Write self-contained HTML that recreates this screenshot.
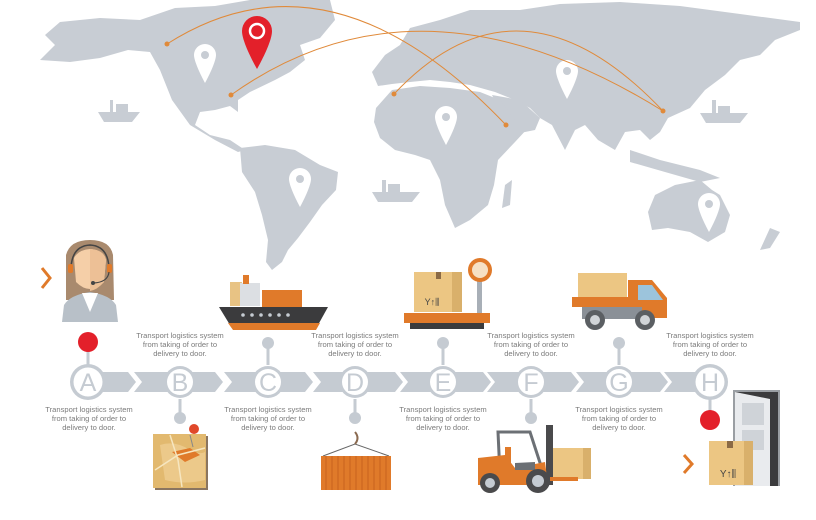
<!DOCTYPE html>
<html><head><meta charset="utf-8"><style>
html,body{margin:0;padding:0;background:#fff;width:816px;height:520px;overflow:hidden}
svg{display:block}
.t{font-family:"Liberation Sans",sans-serif;font-size:7.6px;fill:#7c7c7c;text-anchor:middle}
.L{font-family:"Liberation Sans",sans-serif;font-size:25px;text-anchor:middle}
</style></head><body>
<svg width="816" height="520" viewBox="0 0 816 520" xmlns="http://www.w3.org/2000/svg">
<g fill="#c8cdd4">
<path d="M60,22 L100,18 L140,20 L175,8 L215,6 L250,0 L330,0 L335,20 L320,38 L300,45 L305,60 L290,72 L275,80 L250,92 L238,100 L238,112 L230,106 L215,110 L200,112 L195,125 L210,135 L230,140 L245,150 L238,152 L215,140 L190,125 L172,100 L160,70 L150,52 L128,50 L100,58 L70,62 L40,60 L55,45 L45,35 Z"/>
<path d="M240,148 L265,145 L295,150 L320,165 L338,172 L336,190 L322,205 L310,222 L298,238 L288,250 L282,262 L272,270 L266,262 L268,240 L262,215 L255,192 L242,172 Z"/>
<path d="M372,72 L385,55 L400,45 L410,28 L440,20 L470,10 L520,10 L560,4 L620,2 L680,6 L740,14 L800,22 L800,30 L775,40 L760,55 L740,60 L725,75 L705,90 L690,108 L668,118 L660,132 L650,140 L640,130 L625,132 L615,150 L598,140 L585,125 L575,130 L565,150 L552,125 L540,118 L530,108 L515,100 L495,92 L470,85 L450,82 L430,80 L410,82 L392,84 L378,86 Z"/>
<path d="M492,95 L520,100 L540,118 L535,130 L515,134 L502,115 Z"/>
<path d="M630,150 L660,160 L700,170 L720,178 L700,182 L665,172 L630,162 Z"/>
<path d="M376,108 L392,90 L420,86 L450,88 L480,92 L500,100 L515,120 L528,128 L515,142 L498,160 L494,185 L488,205 L470,220 L455,228 L445,205 L440,180 L430,160 L415,155 L395,150 L380,138 L374,122 Z"/>
<path d="M505,185 L512,180 L510,205 L502,208 Z"/>
<path d="M655,195 L675,185 L700,180 L712,190 L720,195 L730,215 L725,232 L708,242 L690,232 L668,228 L652,230 L648,212 Z"/>
<path d="M770,228 L780,232 L770,248 L760,250 Z"/>
<path d="M98,112 L140,112 L132,122 L104,122 Z M110,100 L113,100 L113,112 L110,112 Z M116,104 L128,104 L128,112 L116,112 Z"/>
<path d="M372,192 L420,192 L412,202 L378,202 Z M382,180 L386,180 L386,192 L382,192 Z M388,184 L400,184 L400,192 L388,192 Z"/>
<path d="M700,113 L748,113 L740,123 L706,123 Z M712,100 L716,100 L716,113 L712,113 Z M718,106 L730,106 L730,113 L718,113 Z"/>
</g>
<g fill="#fff">
<path d="M205,44 a11,11 0 0 1 11,11 c0,8 -11,28 -11,28 c0,0 -11,-20 -11,-28 a11,11 0 0 1 11,-11z"/>
<path d="M446,106 a11,11 0 0 1 11,11 c0,8 -11,28 -11,28 c0,0 -11,-20 -11,-28 a11,11 0 0 1 11,-11z"/>
<path d="M567,60 a11,11 0 0 1 11,11 c0,8 -11,28 -11,28 c0,0 -11,-20 -11,-28 a11,11 0 0 1 11,-11z"/>
<path d="M300,168 a11,11 0 0 1 11,11 c0,8 -11,28 -11,28 c0,0 -11,-20 -11,-28 a11,11 0 0 1 11,-11z"/>
<path d="M709,193 a11,11 0 0 1 11,11 c0,8 -11,28 -11,28 c0,0 -11,-20 -11,-28 a11,11 0 0 1 11,-11z"/>
</g>
<g fill="#c8cdd4"><circle cx="205" cy="55" r="4"/><circle cx="446" cy="117" r="4"/><circle cx="567" cy="71" r="4"/><circle cx="300" cy="179" r="4"/><circle cx="709" cy="204" r="4"/></g>
<g fill="none" stroke="#e08a3a" stroke-width="1">
<path d="M167,44 Q330,-60 506,125"/>
<path d="M231,95 Q420,-40 663,111"/>
<path d="M394,94 Q520,-40 663,111"/>
</g>
<g fill="#e08a3a"><circle cx="167" cy="44" r="2.5"/><circle cx="506" cy="125" r="2.5"/><circle cx="231" cy="95" r="2.5"/><circle cx="663" cy="111" r="2.5"/><circle cx="394" cy="94" r="2.5"/></g>
<path d="M257,16 a15,15 0 0 1 15,15 c0,12 -15,38 -15,38 c0,0 -15,-26 -15,-38 a15,15 0 0 1 15,-15z" fill="#e3202a"/>
<circle cx="257" cy="31" r="7" fill="none" stroke="#fff" stroke-width="2.5"/>

<path d="M42,268 L50,278 L42,288" fill="none" stroke="#e07a2a" stroke-width="3"/>
<path d="M66,255 Q70,240 90,240 Q110,240 113,255 L114,300 L66,300 Z" fill="#a98a6e"/>
<path d="M74,258 Q78,250 90,249 Q104,250 106,260 L104,282 Q90,296 76,282 Z" fill="#f5cfa8"/>
<path d="M90,249 Q104,250 106,260 L104,282 Q97,290 90,291 Z" fill="#edc096"/>
<path d="M62,322 L64,305 Q70,295 90,292 Q110,295 116,305 L118,322 Z" fill="#b8c0c8"/>
<path d="M82,293 L90,312 L98,293 Z" fill="#fff"/>
<path d="M71,268 Q72,246 90,245 Q108,246 109,268" fill="none" stroke="#444" stroke-width="1.5"/>
<rect x="68" y="264" width="5" height="9" rx="2" fill="#e07a2a"/><rect x="107" y="264" width="5" height="9" rx="2" fill="#e07a2a"/>
<path d="M109,272 Q108,282 94,283" fill="none" stroke="#444" stroke-width="1.2"/><circle cx="93" cy="283" r="2" fill="#444"/>

<rect x="230" y="282" width="12" height="24" fill="#e8c384"/>
<rect x="240" y="283" width="20" height="23" fill="#dcdfe3"/>
<rect x="243" y="275" width="6" height="9" fill="#e07a2a"/>
<rect x="262" y="290" width="40" height="17" fill="#e07a2a"/>
<path d="M219,307 L328,307 L318,325 L230,325 Z" fill="#3b3b3d"/>
<path d="M228,323 L320,323 L316,330 L233,330 Z" fill="#e07a2a"/>
<g fill="#c5cbd2"><circle cx="243" cy="315" r="1.8"/><circle cx="252" cy="315" r="1.8"/><circle cx="261" cy="315" r="1.8"/><circle cx="270" cy="315" r="1.8"/><circle cx="279" cy="315" r="1.8"/><circle cx="288" cy="315" r="1.8"/></g>

<rect x="414" y="272" width="48" height="40" fill="#ecc683"/>
<rect x="452" y="272" width="10" height="40" fill="#d9b06b"/>
<rect x="436" y="272" width="5" height="7" fill="#8b6a45"/>
<text x="432" y="305" font-family="Liberation Sans" font-size="9" fill="#444" text-anchor="middle">Y↑⫼</text>
<rect x="477" y="280" width="5" height="33" fill="#a8afb7"/>
<circle cx="480" cy="270" r="12" fill="#e07a2a"/><circle cx="480" cy="270" r="8" fill="#f6e0c4"/>
<rect x="404" y="313" width="86" height="10" fill="#e07a2a"/>
<rect x="410" y="323" width="74" height="6" fill="#3b3b3d"/>

<rect x="578" y="273" width="49" height="24" fill="#ecc683"/>
<rect x="572" y="297" width="60" height="10" fill="#e07a2a"/>
<path d="M628,280 L652,280 L667,298 L667,318 L628,318 Z" fill="#e07a2a"/>
<path d="M638,285 L652,285 L663,300 L638,300 Z" fill="#9cc4dc"/>
<rect x="582" y="307" width="60" height="12" fill="#8a9097"/>
<circle cx="595" cy="320" r="10" fill="#5b5f63"/><circle cx="595" cy="320" r="5" fill="#d0d4d8"/>
<circle cx="645" cy="320" r="10" fill="#5b5f63"/><circle cx="645" cy="320" r="5" fill="#d0d4d8"/>

<g fill="#c5cbd2">
<path d="M95,372 L128,372 L136,382 L128,392 L95,392 Z"/>
<path d="M134,372 L215,372 L223,382 L215,392 L134,392 L142,382 Z"/>
<path d="M224,372 L305,372 L313,382 L305,392 L224,392 L232,382 Z"/>
<path d="M313,372 L395,372 L403,382 L395,392 L313,392 L321,382 Z"/>
<path d="M400,372 L483,372 L491,382 L483,392 L400,392 L408,382 Z"/>
<path d="M487,372 L571,372 L579,382 L571,392 L487,392 L495,382 Z"/>
<path d="M576,372 L660,372 L668,382 L660,392 L576,392 L584,382 Z"/>
<path d="M664,372 L700,372 L700,392 L664,392 L672,382 Z"/>
</g>
<g stroke="#c5cbd2" stroke-width="3">
<line x1="88" y1="345" x2="88" y2="365"/>
<line x1="180" y1="399" x2="180" y2="418"/>
<line x1="268" y1="345" x2="268" y2="365"/>
<line x1="355" y1="399" x2="355" y2="418"/>
<line x1="443" y1="345" x2="443" y2="365"/>
<line x1="531" y1="399" x2="531" y2="418"/>
<line x1="619" y1="345" x2="619" y2="365"/>
<line x1="710" y1="399" x2="710" y2="418"/>
</g>
<g fill="#c5cbd2"><circle cx="180" cy="418" r="6"/><circle cx="268" cy="343" r="6"/><circle cx="355" cy="418" r="6"/><circle cx="443" cy="343" r="6"/><circle cx="531" cy="418" r="6"/><circle cx="619" cy="343" r="6"/></g>
<circle cx="88" cy="342" r="10" fill="#e3202a"/>
<circle cx="710" cy="420" r="10" fill="#e3202a"/>
<g fill="#c5cbd2">
<circle cx="88" cy="382" r="18"/><circle cx="180" cy="382" r="16"/><circle cx="268" cy="382" r="16"/><circle cx="355" cy="382" r="16"/><circle cx="443" cy="382" r="16"/><circle cx="531" cy="382" r="16"/><circle cx="619" cy="382" r="16"/><circle cx="710" cy="382" r="18"/>
</g>
<g fill="#fff"><circle cx="88" cy="382" r="14.5"/><circle cx="180" cy="382" r="13"/><circle cx="268" cy="382" r="13"/><circle cx="355" cy="382" r="13"/><circle cx="443" cy="382" r="13"/><circle cx="531" cy="382" r="13"/><circle cx="619" cy="382" r="13"/><circle cx="710" cy="382" r="14.5"/></g>
<g>
<text class="L" fill="#c5cbd2" x="88" y="391">A</text><text class="L" fill="#c5cbd2" x="180" y="391">B</text><text class="L" fill="#c5cbd2" x="268" y="391">C</text><text class="L" fill="#c5cbd2" x="355" y="391">D</text><text class="L" fill="#c5cbd2" x="443" y="391">E</text><text class="L" fill="#c5cbd2" x="531" y="391">F</text><text class="L" fill="#c5cbd2" x="619" y="391">G</text><text class="L" fill="#c5cbd2" x="710" y="391">H</text>
</g>
<g>
<text class="t" x="180" y="338">Transport logistics system</text><text class="t" x="180" y="347">from taking of order to</text><text class="t" x="180" y="356">delivery to door.</text>
<text class="t" x="355" y="338">Transport logistics system</text><text class="t" x="355" y="347">from taking of order to</text><text class="t" x="355" y="356">delivery to door.</text>
<text class="t" x="531" y="338">Transport logistics system</text><text class="t" x="531" y="347">from taking of order to</text><text class="t" x="531" y="356">delivery to door.</text>
<text class="t" x="710" y="338">Transport logistics system</text><text class="t" x="710" y="347">from taking of order to</text><text class="t" x="710" y="356">delivery to door.</text>
<text class="t" x="89" y="412">Transport logistics system</text><text class="t" x="89" y="421">from taking of order to</text><text class="t" x="89" y="430">delivery to door.</text>
<text class="t" x="268" y="412">Transport logistics system</text><text class="t" x="268" y="421">from taking of order to</text><text class="t" x="268" y="430">delivery to door.</text>
<text class="t" x="443" y="412">Transport logistics system</text><text class="t" x="443" y="421">from taking of order to</text><text class="t" x="443" y="430">delivery to door.</text>
<text class="t" x="619" y="412">Transport logistics system</text><text class="t" x="619" y="421">from taking of order to</text><text class="t" x="619" y="430">delivery to door.</text>
</g>

<rect x="155" y="436" width="53" height="54" fill="#8a7560"/>
<rect x="153" y="434" width="53" height="54" fill="#e2b96f"/>
<path d="M160,445 Q175,440 190,450 Q200,455 205,452 L205,480 Q185,485 165,480 Z" fill="#ecc98a"/>
<path d="M172,452 L190,448 L200,455 L185,462 Z" fill="#e07a2a"/>
<path d="M155,470 L178,455 L205,448 M170,435 L178,460 L182,487" fill="none" stroke="#f6e6c0" stroke-width="1.5"/>
<line x1="193" y1="447" x2="190" y2="435" stroke="#888"/><circle cx="194" cy="429" r="5" fill="#e0482a"/>

<path d="M323,456 L355,444 L389,456" fill="none" stroke="#666" stroke-width="1"/>
<path d="M355,432 Q360,438 355,444" fill="none" stroke="#8a6a50" stroke-width="2"/>
<rect x="321" y="456" width="70" height="34" fill="#e07a2a"/>
<g stroke="#c9621d" stroke-width="1"><line x1="326" y1="456" x2="326" y2="490"/><line x1="332" y1="456" x2="332" y2="490"/><line x1="338" y1="456" x2="338" y2="490"/><line x1="344" y1="456" x2="344" y2="490"/><line x1="350" y1="456" x2="350" y2="490"/><line x1="356" y1="456" x2="356" y2="490"/><line x1="362" y1="456" x2="362" y2="490"/><line x1="368" y1="456" x2="368" y2="490"/><line x1="374" y1="456" x2="374" y2="490"/><line x1="380" y1="456" x2="380" y2="490"/><line x1="386" y1="456" x2="386" y2="490"/></g>

<rect x="546" y="425" width="7" height="60" fill="#4a4a4c"/>
<rect x="553" y="448" width="38" height="31" fill="#ecc683"/>
<rect x="583" y="448" width="8" height="31" fill="#d9b06b"/>
<path d="M498,432 L530,432 L544,475 L500,475 Z" fill="none" stroke="#6c7075" stroke-width="3"/>
<path d="M478,458 L505,455 L515,468 L545,462 L548,485 L478,485 Z" fill="#e07a2a"/>
<rect x="505" y="447" width="6" height="16" fill="#e07a2a"/>
<path d="M515,463 L535,462 L535,470 L515,470 Z" fill="#6c7075"/>
<rect x="550" y="477" width="28" height="4" fill="#e07a2a"/>
<circle cx="490" cy="483" r="10" fill="#4a4a4c"/><circle cx="490" cy="483" r="5" fill="#c5cbd2"/>
<circle cx="538" cy="481" r="12" fill="#4a4a4c"/><circle cx="538" cy="481" r="6" fill="#c5cbd2"/>

<rect x="733" y="390" width="47" height="96" fill="#9a9ea3"/>
<rect x="735" y="392" width="43" height="94" fill="#3b3b3d"/>
<path d="M735,392 L770,399 L770,486 L735,486 Z" fill="#e9ebee"/>
<rect x="742" y="403" width="22" height="22" fill="#cfd3d8"/><rect x="742" y="430" width="22" height="20" fill="#cfd3d8"/>
<path d="M684,455 L692,464 L684,473" fill="none" stroke="#e07a2a" stroke-width="3"/>
<rect x="709" y="441" width="44" height="44" fill="#ecc683"/>
<rect x="744" y="441" width="9" height="44" fill="#d9b06b"/>
<rect x="727" y="441" width="6" height="7" fill="#8b6a45"/>
<text x="728" y="477" font-family="Liberation Sans" font-size="10" fill="#444" text-anchor="middle">Y↑⫼</text>
</svg>
</body></html>
